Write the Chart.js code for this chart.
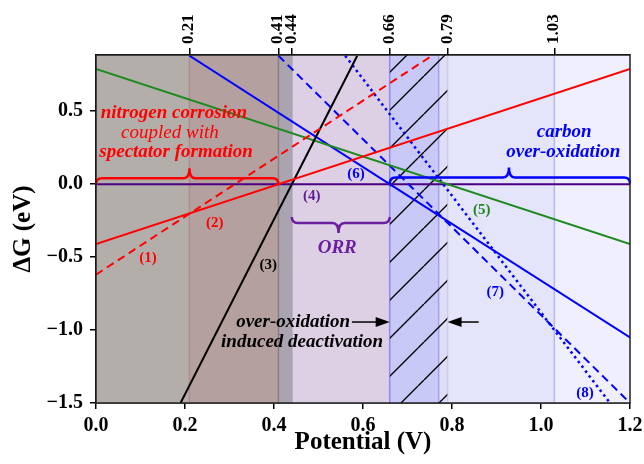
<!DOCTYPE html>
<html>
<head>
<meta charset="utf-8">
<script src="https://cdn.jsdelivr.net/npm/chart.js@4.4.1/dist/chart.umd.min.js"></script>
<style>
  html, body { margin: 0; padding: 0; background: #fff; }
  canvas { display: block; }
</style>
</head>
<body>
<canvas id="myChart" width="644" height="464"></canvas>
<script>
const SERIF = '"Liberation Serif", "Times New Roman", serif';

const xTicks = [0.0, 0.2, 0.4, 0.6, 0.8, 1.0, 1.2];
const yTicks = [-1.5, -1.0, -0.5, 0.0, 0.5];
const topTicks = [0.21, 0.41, 0.44, 0.66, 0.79, 1.03];
const xMin = 0, xMax = 1.2, yMin = -1.5, yMax = 0.885;

// shaded potential windows
const spanFrom = [0, 0.21, 0.41, 0.44, 0.66, 0.77, 0.79, 1.03];
const spanTo = [0.21, 0.41, 0.44, 0.66, 0.77, 0.79, 1.03, 1.2];
const spanColors = ['#b4aeab', '#b4a19f', '#a9a4ae', '#ddd0e5', '#c9c9f7', '#dedef9', '#e4e4fb', '#efeffd'];

// thin lines on the window edges
const edgeX = [0.21, 0.41, 0.44, 0.66, 0.77, 0.79, 1.03];
const edgeColors = ['#b08c8c', '#8f7d86', '#a49fb6', '#8a8af0', '#a2a2f2', '#cfcfdf', '#b9b9ec'];

const hatchFrom = 0.66, hatchTo = 0.79;

// free energy lines, (potential V, dG eV)
const line1 = [{x: 0, y: -0.62}, {x: 0.755, y: 0.88}];
const line2 = [{x: 0, y: -0.41}, {x: 1.2, y: 0.79}];
const line3 = [{x: 0.19, y: -1.5}, {x: 0.587, y: 0.88}];
const line4 = [{x: 0, y: 0}, {x: 1.2, y: 0}];
const line5 = [{x: 0, y: 0.79}, {x: 1.2, y: -0.41}];
const line67 = [{x: 0.21, y: 0.88}, {x: 0.66, y: 0}, {x: 1.2, y: -1.05}];
const blueDash = [{x: 0.41, y: 0.88}, {x: 1.2, y: -1.5}];
const blueDot = [{x: 0.56, y: 0.88}, {x: 1.155, y: -1.5}];

// numbered labels
const numText = ['(1)', '(2)', '(3)', '(4)', '(5)', '(6)', '(7)', '(8)'];
const numX = [0.117, 0.267, 0.387, 0.485, 0.867, 0.584, 0.897, 1.099];
const numY = [-0.51, -0.27, -0.555, -0.08, -0.18, 0.068, -0.74, -1.43];
const numColors = ['#f00', '#f00', '#000', '#5b1f8f', '#1f8a1f', '#0000ff', '#0000ff', '#0000ff'];

// region captions
const noteText = ['nitrogen corrosion', 'coupled with', 'spectator formation', 'carbon', 'over-oxidation', 'ORR', 'over-oxidation', 'induced deactivation'];
const noteX = [0.175, 0.166, 0.18, 1.052, 1.05, 0.542, 0.443, 0.463];
const noteY = [0.486, 0.35, 0.22, 0.356, 0.22, -0.44, -0.945, -1.082];
const noteColors = ['#f00', '#f00', '#f00', '#0000ff', '#0000ff', '#6a1fa0', '#000', '#000'];
const noteBold = [true, false, true, true, true, true, true, true];

// curly braces: from, to, tip, y of the ends, opening direction
const braces = [
  {from: 0.0, to: 0.41, tip: 0.21, y: 0.0, up: true, color: '#f00'},
  {from: 0.66, to: 1.2, tip: 0.928, y: 0.005, up: true, color: '#0000ff'},
  {from: 0.44, to: 0.66, tip: 0.545, y: -0.225, up: false, color: '#6a1fa0'}
];

// arrows pointing at the deactivation window
const arrows = [
  {from: 0.575, to: 0.66, y: -0.945},
  {from: 0.86, to: 0.79, y: -0.945}
];

function hatchPattern() {
  const c = document.createElement('canvas');
  c.width = 38; c.height = 38;
  const g = c.getContext('2d');
  g.strokeStyle = '#000';
  g.lineWidth = 1.4;
  g.beginPath();
  g.moveTo(0, 6); g.lineTo(6, 0);
  g.moveTo(6, 38); g.lineTo(38, 6);
  g.stroke();
  return g.createPattern(c, 'repeat');
}

const datasets = [];

function addLine(data, color, dash, order, width) {
  datasets.push({
    data: data, borderColor: color, borderWidth: width || 2, borderDash: dash || [],
    pointRadius: 0, fill: false, order: order || 0, tension: 0
  });
}

addLine(line4, '#4b0082', [], 1);
addLine(line1, '#ff0000', [8, 5]);
addLine(line2, '#ff0000');
addLine(line3, '#000000');
addLine(line5, '#1f8a1f');
addLine(line67, '#0000ff');
addLine(blueDash, '#0000ff', [8, 5]);
addLine(blueDot, '#0000ff', [2.5, 3.5], 0, 2.5);

datasets.push({
  data: [{x: hatchFrom, y: yMax}, {x: hatchTo, y: yMax}],
  borderWidth: 0, borderColor: 'rgba(0,0,0,0)', pointRadius: 0,
  fill: 'start', backgroundColor: hatchPattern(), order: 5
});

edgeX.forEach((v, i) => {
  datasets.push({
    data: [{x: v, y: yMin}, {x: v, y: yMax}],
    borderColor: edgeColors[i], borderWidth: 1.5, pointRadius: 0, fill: false, order: 8
  });
});

spanFrom.forEach((v, i) => {
  datasets.push({
    data: [{x: v, y: yMax}, {x: spanTo[i], y: yMax}],
    borderWidth: 0, borderColor: 'rgba(0,0,0,0)', pointRadius: 0,
    fill: 'start', backgroundColor: spanColors[i], order: 10
  });
});

const decor = {
  id: 'decor',
  afterDatasetsDraw(chart) {
    const {ctx, chartArea: a} = chart;
    const x = chart.scales.x, y = chart.scales.y;
    ctx.save();

    braces.forEach(b => {
      const x0 = x.getPixelForValue(b.from), x1 = x.getPixelForValue(b.to);
      const xt = x.getPixelForValue(b.tip), yb = y.getPixelForValue(b.y);
      const d = b.up ? -1 : 1;
      const yh = yb + d * 6, yt = yb + d * 16;
      ctx.strokeStyle = b.color;
      ctx.lineWidth = 2.5;
      ctx.beginPath();
      ctx.moveTo(x0, yb);
      ctx.quadraticCurveTo(x0, yh, x0 + 6, yh);
      ctx.lineTo(xt - 6, yh);
      ctx.quadraticCurveTo(xt, yh, xt, yt);
      ctx.quadraticCurveTo(xt, yh, xt + 6, yh);
      ctx.lineTo(x1 - 6, yh);
      ctx.quadraticCurveTo(x1, yh, x1, yb);
      ctx.stroke();
    });

    arrows.forEach(ar => {
      const xs = x.getPixelForValue(ar.from), xe = x.getPixelForValue(ar.to);
      const yy = y.getPixelForValue(ar.y);
      const s = xe > xs ? 1 : -1;
      ctx.strokeStyle = '#000';
      ctx.fillStyle = '#000';
      ctx.lineWidth = 1.5;
      ctx.beginPath();
      ctx.moveTo(xs, yy);
      ctx.lineTo(xe - s * 10, yy);
      ctx.stroke();
      ctx.beginPath();
      ctx.moveTo(xe, yy);
      ctx.lineTo(xe - s * 14, yy - 5);
      ctx.lineTo(xe - s * 14, yy + 5);
      ctx.closePath();
      ctx.fill();
    });

    ctx.textAlign = 'center';
    ctx.textBaseline = 'middle';
    noteText.forEach((t, i) => {
      ctx.font = (noteBold[i] ? 'italic bold ' : 'italic ') + '19px ' + SERIF;
      ctx.fillStyle = noteColors[i];
      ctx.fillText(t, x.getPixelForValue(noteX[i]), y.getPixelForValue(noteY[i]));
    });
    ctx.font = 'bold 15px ' + SERIF;
    numText.forEach((t, i) => {
      ctx.fillStyle = numColors[i];
      ctx.fillText(t, x.getPixelForValue(numX[i]), y.getPixelForValue(numY[i]));
    });

    ctx.strokeStyle = '#222';
    ctx.lineWidth = 1.5;
    ctx.strokeRect(a.left, a.top, a.right - a.left, a.bottom - a.top);
    ctx.restore();
  }
};

const fmt = v => v.toFixed(1).replace('-', '\u2212');
const tickFont = {family: SERIF, size: 20, weight: 'bold'};

new Chart(document.getElementById('myChart'), {
  type: 'line',
  data: {datasets: datasets},
  options: {
    responsive: false,
    animation: false,
    layout: {padding: {left: 0, right: 14, top: 0, bottom: 0}},
    plugins: {legend: {display: false}, tooltip: {enabled: false}},
    scales: {
      x: {
        type: 'linear', position: 'bottom', min: xMin, max: xMax,
        afterBuildTicks: s => { s.ticks = xTicks.map(v => ({value: v})); },
        afterFit: s => { s.height = 61; s.paddingLeft = 0; s.paddingRight = 0; },
        ticks: {color: '#000', font: tickFont, padding: 5, autoSkip: false, maxRotation: 0, callback: v => fmt(v)},
        grid: {drawOnChartArea: false, tickLength: 6, color: '#000', lineWidth: 1.5},
        border: {color: '#000', width: 1.5},
        title: {display: true, text: 'Potential (V)', color: '#000', font: {family: SERIF, size: 25, weight: 'bold'}, padding: {top: 0, bottom: 6}}
      },
      x2: {
        type: 'linear', position: 'top', min: xMin, max: xMax,
        afterBuildTicks: s => { s.ticks = topTicks.map(v => ({value: v})); },
        afterFit: s => { s.height = 55; s.paddingLeft = 0; s.paddingRight = 0; },
        ticks: {color: '#000', font: {family: SERIF, size: 17, weight: 'bold'}, padding: 4, labelOffset: 20, autoSkip: false, minRotation: 90, maxRotation: 90, callback: v => v.toFixed(2)},
        grid: {drawOnChartArea: false, tickLength: 7, color: '#000', lineWidth: 1.5},
        border: {color: '#000', width: 1.5}
      },
      y: {
        type: 'linear', position: 'left', min: yMin, max: yMax,
        afterBuildTicks: s => { s.ticks = yTicks.map(v => ({value: v})); },
        afterFit: s => { s.width = 96; },
        ticks: {color: '#000', font: tickFont, padding: 7, callback: v => fmt(v)},
        grid: {drawOnChartArea: false, tickLength: 6, color: '#000', lineWidth: 1.5},
        border: {color: '#000', width: 1.5},
        title: {display: true, text: '\u0394G (eV)', color: '#000', font: {family: SERIF, size: 25, weight: 'bold'}, padding: {top: 9, bottom: 0}}
      }
    }
  },
  plugins: [decor]
});
</script>
</body>
</html>
